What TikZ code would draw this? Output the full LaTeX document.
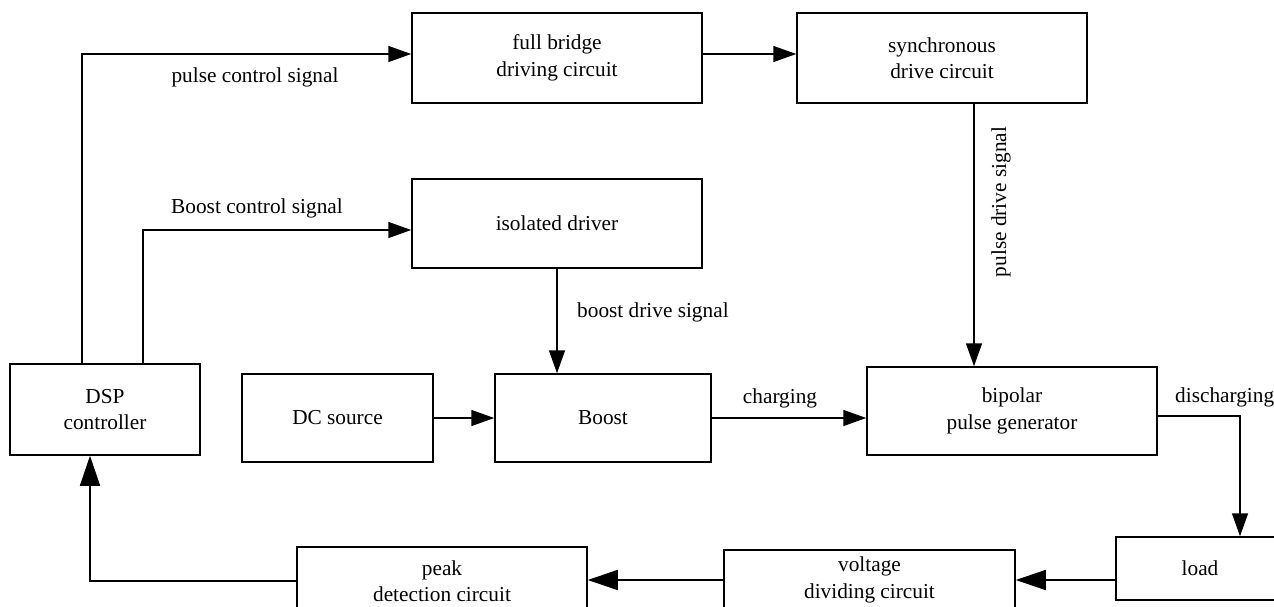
\documentclass[tikz,border=0pt]{standalone}
\usepackage{fontspec}
\setmainfont{Liberation Serif}
\usetikzlibrary{arrows.meta}
\tikzset{
  blk/.style={draw, line width=1.5pt, rectangle, inner sep=0pt, align=center,
    font=\fontsize{21.3}{26.5}\selectfont},
  lbl/.style={inner sep=0pt, font=\fontsize{21.3}{26.5}\selectfont},
  arr/.style={line width=1.5pt, -{Triangle[length=23pt,width=16pt]}},
  bigarr/.style={line width=1.5pt, -{Triangle[length=30pt,width=20pt]}},
}
\begin{document}
\begin{tikzpicture}[x=1pt,y=-1pt]
\useasboundingbox (0,0) rectangle (1274,607);
\clip (0,0) rectangle (1274,607);
% blocks
\node[blk, minimum width=290pt, minimum height=90pt] (fb) at (557,58) {full bridge\\driving circuit};
\node[blk, minimum width=290pt, minimum height=90pt] (sync) at (942,58) {synchronous\\drive circuit};
\node[blk, minimum width=290pt, minimum height=89pt] (iso) at (557,223.5) {isolated driver};
\node[blk, minimum width=190pt, minimum height=91pt] (dsp) at (105,409.5) {DSP\\controller};
\node[blk, minimum width=191pt, minimum height=88pt] (dc) at (337.5,418) {DC source};
\node[blk, minimum width=216pt, minimum height=88pt] (boost) at (603,418) {Boost};
\node[blk, minimum width=290pt, minimum height=88pt] (bip) at (1012,411) {bipolar\\pulse generator};
\node[blk, minimum width=168pt, minimum height=63pt] (load) at (1200,568.5) {load};
\node[blk, minimum width=291pt, minimum height=60pt] (volt) at (869.5,580) {voltage\\dividing circuit};
\node[blk, minimum width=290pt, minimum height=68pt] (peak) at (442,581) {peak\\detection circuit};
% labels
\node[lbl] (lpcs) at (255,77) {pulse control signal};
\node[lbl] (lbcs) at (257,208) {Boost control signal};
\node[lbl, rotate=90] (lpds) at (1001,202) {pulse drive signal};
\node[lbl, anchor=west] (lbds) at (577,312) {boost drive signal};
\node[lbl] (lchg) at (780,398) {charging};
\node[lbl, anchor=west] (ldis) at (1175,397) {discharging};
% connectors
\draw[arr] ([xshift=-23pt]dsp.north) |- ([yshift=4pt]fb.west);
\draw[arr] ([xshift=38pt]dsp.north) |- ([yshift=-6.5pt]iso.west);
\draw[arr] ([yshift=4pt]fb.east) -- ([yshift=4pt]sync.west);
\draw[arr] ([xshift=32pt]sync.south) -- ([xshift=32pt]sync.south |- bip.north);
\draw[arr] (iso.south) -- (iso.south |- boost.north);
\draw[arr] (dc.east) -- (boost.west);
\draw[arr] (boost.east) -- (boost.east -| bip.west);
\draw[arr] ([yshift=-5pt]bip.east) -| ([xshift=40pt]load.north);
\draw[bigarr] ([yshift=-11.5pt]load.west) -- ([yshift=-11.5pt]load.west -| volt.east);
\draw[bigarr] (volt.west) -- (volt.west -| peak.east);
\draw[bigarr] (peak.west) -| ([xshift=-15pt]dsp.south);
\end{tikzpicture}
\end{document}
